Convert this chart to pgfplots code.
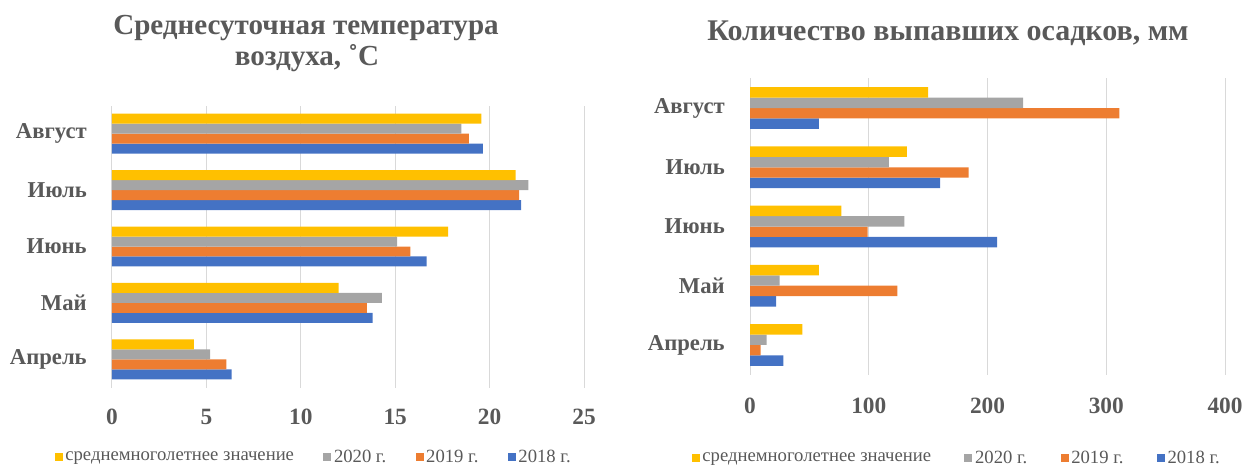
\documentclass[border=0pt]{standalone}
\usepackage{fontspec}
\setmainfont{Liberation Serif}[BoldFont={Liberation Serif Bold}]
\usepackage{pgfplots}
\pgfplotsset{compat=1.18}
\definecolor{cblue}{HTML}{4472C4}
\definecolor{corange}{HTML}{ED7D31}
\definecolor{cgray}{HTML}{A5A5A5}
\definecolor{cyellow}{HTML}{FFC000}
\definecolor{textc}{HTML}{595959}
\definecolor{gridc}{HTML}{D9D9D9}
\pgfplotsset{
  common/.style={
    scale only axis,
    ymin=-0.5, ymax=4.5,
    ytick={0,1,2,3,4},
    yticklabels={Апрель,Май,Июнь,Июль,Август},
    xmajorgrids, ymajorgrids=false,
    grid style={draw=gridc, line width=0.75pt},
    axis line style={draw=none},
    major tick length=0pt,
    /pgf/number format/assume math mode=true,
    yticklabel style={font=\rmfamily\bfseries\fontsize{17}{19}\selectfont, color=textc, anchor=east, inner sep=0pt, xshift=-18.75pt},
    xticklabel style={font=\rmfamily\bfseries\fontsize{17.5}{19}\selectfont, color=textc, anchor=base, inner sep=0pt},
    reverse legend,
    legend columns=4,
    legend style={draw=none, fill=none, font=\rmfamily\fontsize{14}{16}\selectfont, text=textc, anchor=center,
      /tikz/every even column/.append style={column sep=20pt}},
    legend image code/.code={\fill[##1] (0pt,-3pt) rectangle (6pt,3pt);},
  }
}
\begin{document}
\begin{tikzpicture}
\useasboundingbox (0pt,0pt) rectangle (934.5pt,351pt);
% left chart
\begin{axis}[common,
  at={(84pt,60.375pt)}, anchor=south west,
  width=354pt, height=211.5pt,
  xmin=0, xmax=25, xtick={0,5,10,15,20,25},
  xticklabel style={yshift=-27.5pt},
  legend style={at={(0.428,-0.248)}},
]
\addplot[xbar, fill=cblue, draw=none, bar width=0.177, bar shift=-0.2655] coordinates {(6.34,0) (13.8,1) (16.67,2) (21.67,3) (19.65,4)};
\addplot[xbar, fill=corange, draw=none, bar width=0.177, bar shift=-0.0885] coordinates {(6.06,0) (13.5,1) (15.8,2) (21.56,3) (18.9,4)};
\addplot[xbar, fill=cgray, draw=none, bar width=0.177, bar shift=0.0885] coordinates {(5.2,0) (14.3,1) (15.1,2) (22.06,3) (18.5,4)};
\addplot[xbar, fill=cyellow, draw=none, bar width=0.177, bar shift=0.2655] coordinates {(4.33,0) (12.0,1) (17.8,2) (21.38,3) (19.56,4)};
\legend{2018 г.,2019 г.,2020 г.,среднемноголетнее значение}
\end{axis}
% right chart
\begin{axis}[common,
  at={(562.5pt,70.05pt)}, anchor=south west,
  width=356.25pt, height=222.15pt,
  xmin=0, xmax=400, xtick={0,100,200,300,400},
  xticklabel style={yshift=-29.2pt},
  legend style={at={(0.436,-0.282)}, /tikz/every even column/.append style={column sep=23pt}},
]
\addplot[xbar, fill=cblue, draw=none, bar width=0.176, bar shift=-0.264] coordinates {(28,0) (22,1) (208,2) (160,3) (58,4)};
\addplot[xbar, fill=corange, draw=none, bar width=0.176, bar shift=-0.088] coordinates {(9,0) (124,1) (99,2) (184,3) (311,4)};
\addplot[xbar, fill=cgray, draw=none, bar width=0.176, bar shift=0.088] coordinates {(14,0) (25,1) (130,2) (117,3) (230,4)};
\addplot[xbar, fill=cyellow, draw=none, bar width=0.176, bar shift=0.264] coordinates {(44,0) (58,1) (77,2) (132,3) (150,4)};
\legend{2018 г.,2019 г.,2020 г.,среднемноголетнее значение}
\end{axis}
% titles
\node[anchor=base, font=\rmfamily\bfseries\fontsize{21.8}{24}\selectfont, text=textc, inner sep=0pt] at (229.5pt,324.75pt) {Среднесуточная температура};
\node[anchor=base, font=\rmfamily\bfseries\fontsize{21.8}{24}\selectfont, text=textc, inner sep=0pt] at (230.25pt,301.5pt) {воздуха, ˚C};
\node[anchor=base, font=\rmfamily\bfseries\fontsize{22.5}{24}\selectfont, text=textc, inner sep=0pt] at (711pt,320.25pt) {Количество выпавших осадков, мм};
\end{tikzpicture}
\end{document}
